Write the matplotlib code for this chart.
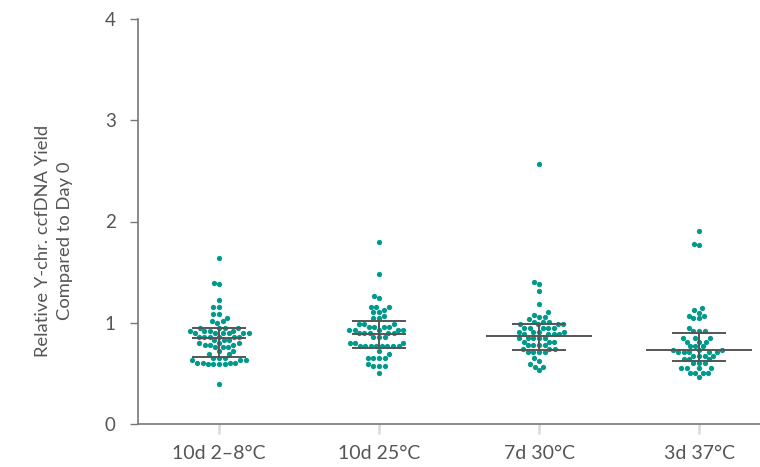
import matplotlib
matplotlib.use("Agg")
import matplotlib.pyplot as plt
import numpy as np
import pandas as pd
import seaborn as sns

categories = ["10d 2\u20138\u00b0C", "10d 25\u00b0C", "7d 30\u00b0C", "3d 37\u00b0C"]

g1 = [1.636, 1.39, 1.38, 1.225, 1.155, 1.155, 1.086, 1.086, 1.047, 1.02, 1.02, 1.0,
      0.95, 0.95, 0.95, 0.95, 0.92, 0.92, 0.92, 0.92,
      0.895, 0.895, 0.895, 0.895, 0.895, 0.895,
      0.86, 0.86, 0.86, 0.86, 0.86, 0.86,
      0.83, 0.83, 0.83, 0.80, 0.80, 0.80, 0.78, 0.78, 0.78, 0.757, 0.757, 0.757,
      0.72, 0.72, 0.69, 0.69, 0.655, 0.655, 0.655, 0.63, 0.63, 0.63,
      0.605, 0.605, 0.605, 0.605, 0.59, 0.59, 0.59, 0.59, 0.40]
g2 = [1.795, 1.485, 1.264, 1.245, 1.155, 1.155, 1.155, 1.13, 1.11, 1.11, 1.067, 1.044, 1.044,
      0.985, 0.985, 0.985, 0.96, 0.96, 0.96, 0.96, 0.93, 0.93, 0.93, 0.93, 0.93,
      0.895, 0.895, 0.895, 0.895, 0.895, 0.856, 0.856, 0.856, 0.80, 0.80, 0.80,
      0.77, 0.77, 0.77, 0.77, 0.77, 0.77, 0.77, 0.77, 0.724, 0.69,
      0.655, 0.655, 0.655, 0.655, 0.59, 0.573, 0.573, 0.573, 0.50]
g3 = [2.568, 1.405, 1.383, 1.313, 1.185, 1.103, 1.077, 1.06, 1.06, 1.034,
      1.01, 1.01, 1.01, 0.985, 0.985, 0.985, 0.985, 0.95, 0.95, 0.95, 0.95, 0.95,
      0.91, 0.91, 0.91, 0.91, 0.886, 0.886, 0.886, 0.886,
      0.846, 0.846, 0.846, 0.846, 0.846, 0.813, 0.813, 0.813, 0.78, 0.78, 0.78, 0.78,
      0.74, 0.74, 0.74, 0.714, 0.714, 0.714, 0.714, 0.649, 0.62, 0.59, 0.566, 0.566, 0.533]
g4 = [1.906, 1.773, 1.765, 1.142, 1.126, 1.10, 1.067, 1.067, 1.044, 1.044, 0.945,
      0.918, 0.918, 0.918, 0.846, 0.846, 0.846, 0.813, 0.813, 0.813, 0.77, 0.77, 0.77,
      0.73, 0.73, 0.73, 0.71, 0.71, 0.71, 0.71, 0.71, 0.675, 0.675, 0.675, 0.675,
      0.639, 0.639, 0.639, 0.605, 0.605, 0.605, 0.55, 0.55, 0.55, 0.55,
      0.507, 0.507, 0.507, 0.507, 0.467]

medians = [0.852, 0.892, 0.869, 0.731]
q1 = [0.662, 0.754, 0.734, 0.619]
q3 = [0.951, 1.02, 0.985, 0.902]
y_ticks = [0, 1, 2, 3, 4]

groups = [g1, g2, g3, g4]
df = pd.DataFrame({
    "cat": np.concatenate([[c] * len(g) for c, g in zip(categories, groups)]),
    "val": np.concatenate(groups),
})

plt.rcParams["font.family"] = ["Lato", "DejaVu Sans"]
fig = plt.figure(figsize=(7.6, 4.67), dpi=100)
ax = fig.add_axes([138 / 760, 43 / 467, 1 - 138 / 760, 405 / 467])

teal = "#00998C"
sns.swarmplot(data=df, x="cat", y="val", order=categories, color=teal, size=3.8,
              ax=ax, zorder=2, linewidth=0)

line_c = "#555555"
med_half = [0.17, 0.17, 0.33, 0.33]
q_half = 0.17
for i in range(len(categories)):
    ax.hlines(medians[i], i - med_half[i], i + med_half[i], color=line_c, lw=1.4, zorder=3)
    ax.hlines([q1[i], q3[i]], i - q_half, i + q_half, color=line_c, lw=1.4, zorder=3)
    ax.vlines(i, q1[i], q3[i], color=line_c, lw=1.4, zorder=3)

ax.set_xlim(-0.506, 3.381)
ax.set_ylim(0, 4)
ax.set_yticks(y_ticks)
ax.set_yticklabels([str(t) for t in y_ticks])
ax.set_xlabel("")
ax.set_ylabel("Relative Y-chr. ccfDNA Yield\nCompared to Day 0", fontsize=13.2,
              color="#555555", linespacing=1.5, multialignment="center")
ax.yaxis.set_label_coords(-0.104, 0.452)

for s in ["top", "right"]:
    ax.spines[s].set_visible(False)
ax.spines["left"].set_color("#777777")
ax.spines["bottom"].set_color("#777777")
ax.spines["left"].set_linewidth(1.2)
ax.spines["bottom"].set_linewidth(1.2)

ax.tick_params(axis="y", colors="#777777", labelcolor="#555555", labelsize=13.5,
               length=6, width=1, pad=10)
ax.tick_params(axis="x", colors="#dddddd", labelcolor="#555555", labelsize=14,
               length=7, width=2, pad=8)

fig.savefig("out.png", dpi=100)
